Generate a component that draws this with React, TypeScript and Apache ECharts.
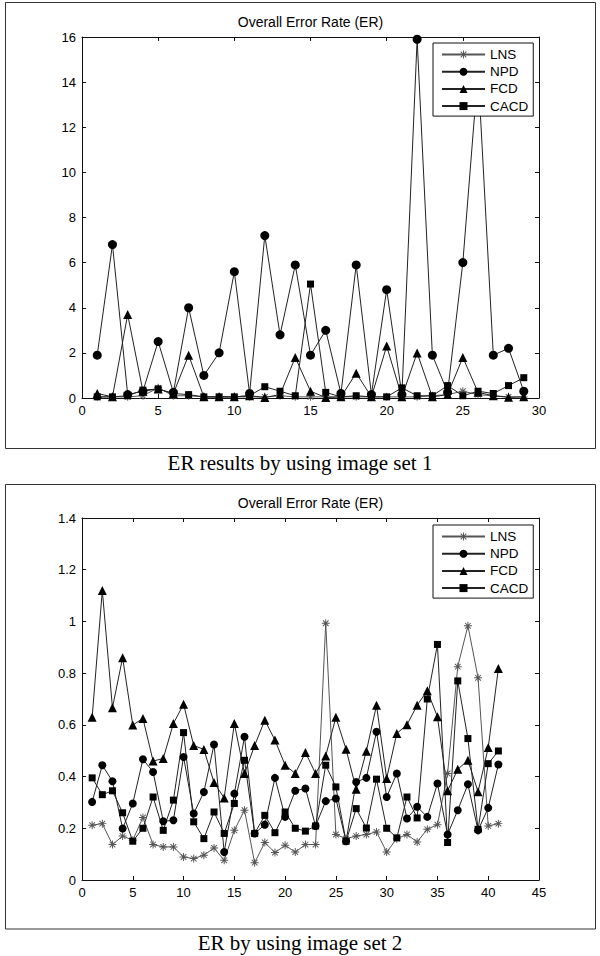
import React, { useEffect, useRef } from 'react';
import * as echarts from 'echarts';

// ---------- data ----------
const SERIES_NAMES = ['LNS', 'NPD', 'FCD', 'CACD'];

// Image set 1 (x = 1..29)
const LNS_SET1 = [0.05, 0.05, 0.05, 0.1, 0.45, 0.1, 0.1, 0.05, 0.05, 0.05, 0.05, 0.05, 0.1, 0.05, 0.05, 0.05, 0.05, 0.05, 0.05, 0.05, 0.05, 0.05, 0.1, 0.15, 0.3, 0.15, 0.1, 0.05, 0.05];
const NPD_SET1 = [1.9, 6.8, 0.15, 0.3, 2.5, 0.25, 4.0, 1.0, 2.0, 5.6, 0.2, 7.2, 2.8, 5.9, 1.9, 3.0, 0.2, 5.9, 0.15, 4.8, 0.15, 15.9, 1.9, 0.25, 6.0, 14.5, 1.9, 2.2, 0.3];
const FCD_SET1 = [0.2, 0.05, 3.7, 0.3, 0.4, 0.2, 1.9, 0.05, 0.05, 0.05, 0.1, 0.02, 0.15, 1.8, 0.3, 0.02, 0.05, 1.1, 0.05, 2.3, 0.05, 2.0, 0.05, 0.15, 1.8, 0.25, 0.1, 0.03, 0.05];
const CACD_SET1 = [0.05, 0.05, 0.1, 0.35, 0.4, 0.2, 0.15, 0.05, 0.05, 0.05, 0.1, 0.5, 0.3, 0.1, 5.05, 0.25, 0.05, 0.1, 0.05, 0.05, 0.45, 0.1, 0.1, 0.55, 0.1, 0.3, 0.2, 0.55, 0.9];

// Image set 2 (x = 1..41)
const LNS_SET2 = [0.212, 0.218, 0.137, 0.17, 0.154, 0.242, 0.137, 0.128, 0.128, 0.089, 0.083, 0.096, 0.124, 0.076, 0.192, 0.27, 0.067, 0.145, 0.106, 0.134, 0.108, 0.137, 0.137, 0.993, 0.176, 0.16, 0.17, 0.176, 0.186, 0.108, 0.16, 0.176, 0.147, 0.196, 0.214, 0.412, 0.825, 0.983, 0.782, 0.209, 0.218];
const NPD_SET2 = [0.302, 0.444, 0.382, 0.199, 0.296, 0.467, 0.418, 0.227, 0.231, 0.476, 0.257, 0.34, 0.524, 0.108, 0.334, 0.554, 0.18, 0.214, 0.395, 0.244, 0.345, 0.354, 0.209, 0.305, 0.315, 0.15, 0.379, 0.395, 0.573, 0.321, 0.412, 0.238, 0.283, 0.244, 0.373, 0.176, 0.27, 0.37, 0.192, 0.279, 0.447];
const FCD_SET2 = [0.629, 1.12, 0.666, 0.86, 0.599, 0.625, 0.46, 0.47, 0.605, 0.68, 0.52, 0.505, 0.377, 0.317, 0.605, 0.412, 0.52, 0.618, 0.541, 0.444, 0.412, 0.493, 0.412, 0.48, 0.629, 0.506, 0.351, 0.498, 0.676, 0.393, 0.567, 0.6, 0.676, 0.732, 0.631, 0.345, 0.428, 0.463, 0.341, 0.512, 0.818];
const CACD_SET2 = [0.395, 0.33, 0.345, 0.26, 0.15, 0.2, 0.321, 0.192, 0.309, 0.57, 0.225, 0.16, 0.263, 0.18, 0.296, 0.463, 0.18, 0.25, 0.183, 0.263, 0.2, 0.189, 0.209, 0.444, 0.36, 0.15, 0.276, 0.201, 0.39, 0.2, 0.163, 0.321, 0.24, 0.7, 0.911, 0.145, 0.77, 0.547, 0.196, 0.45, 0.499];

const TITLE = 'Overall Error Rate (ER)';
const CAPTION_1 = 'ER results by using image set 1';
const CAPTION_2 = 'ER by using image set 2';

// axis ranges
const X1 = { min: 0, max: 30, interval: 5 };
const Y1 = { min: 0, max: 16, interval: 2 };
const X2 = { min: 0, max: 45, interval: 5 };
const Y2 = { min: 0, max: 1.4, interval: 0.2 };

// ---------- styling ----------
const SANS = 'Arial, "Liberation Sans", Helvetica, sans-serif';
const SERIF = '"Times New Roman", "Liberation Serif", Times, serif';
const STAR =
  'path://M-0.6,-5L0.6,-5L0.6,5L-0.6,5Z M-5,-0.6L5,-0.6L5,0.6L-5,0.6Z M-3.1,-3.95L3.95,3.1L3.1,3.95L-3.95,-3.1Z M3.1,-3.95L3.95,-3.1L-3.1,3.95L-3.95,3.1Z';

const toPts = (arr: number[]) => arr.map((v, i) => [i + 1, v]);

function axisPair(range: any, grid: number, isX: boolean, fmt?: (v: number) => string) {
  const common = {
    type: 'value',
    gridIndex: grid,
    min: range.min,
    max: range.max,
    interval: range.interval,
    splitLine: { show: false },
    axisLine: { show: true, onZero: false, lineStyle: { color: '#111', width: 1 } },
    axisTick: { show: true, inside: true, length: 4, lineStyle: { color: '#111', width: 1 } },
  };
  const main = {
    ...common,
    position: isX ? 'bottom' : 'left',
    axisLabel: {
      show: true,
      margin: 6,
      color: '#000',
      fontSize: 13,
      fontFamily: SANS,
      formatter: fmt,
      showMinLabel: true,
      showMaxLabel: true,
    },
  };
  const mirror = {
    ...common,
    position: isX ? 'top' : 'right',
    axisLabel: { show: false },
  };
  return [main, mirror];
}

function mkSeries(name: string, data: number[], grid: number, symbol: string, size: number, color: string, lineColor: string) {
  return {
    name,
    type: 'line',
    xAxisIndex: grid * 2,
    yAxisIndex: grid * 2,
    data: toPts(data),
    symbol,
    symbolSize: size,
    symbolKeepAspect: true,
    showSymbol: true,
    showAllSymbol: true,
    lineStyle: { color: lineColor, width: 1 },
    itemStyle: { color, borderWidth: 0 },
    emphasis: { disabled: true },
  };
}

function legendAt(top: number) {
  return {
    show: true,
    orient: 'vertical',
    left: 433,
    top,
    data: SERIES_NAMES,
    itemWidth: 43,
    itemHeight: 10,
    itemGap: 3.2,
    padding: [4.5, 5, 3, 8],
    borderColor: '#111',
    borderWidth: 1,
    borderRadius: 0,
    backgroundColor: '#fff',
    selectedMode: false,
    textStyle: { color: '#000', fontSize: 13.5, fontFamily: SANS, lineHeight: 14 },
  };
}

export default function App() {
  const ref = useRef<HTMLDivElement>(null);

  useEffect(() => {
    document.body.style.margin = '0';
    if (!ref.current) return;
    const chart = echarts.init(ref.current, null, { renderer: 'svg' });

    const fmt2 = (v: number) => String(Math.round(v * 10) / 10);

    const option: any = {
      animation: false,
      backgroundColor: '#fff',
      grid: [
        { left: 82, top: 37, width: 457, height: 361, containLabel: false },
        { left: 82, top: 518, width: 457, height: 362, containLabel: false },
      ],
      xAxis: [...axisPair(X1, 0, true), ...axisPair(X2, 1, true)],
      yAxis: [...axisPair(Y1, 0, false), ...axisPair(Y2, 1, false, fmt2)],
      legend: [legendAt(43), legendAt(525)],
      series: [
        mkSeries('LNS', LNS_SET1, 0, STAR, 8, '#555', '#555'),
        mkSeries('NPD', NPD_SET1, 0, 'circle', 9, '#000', '#222'),
        mkSeries('FCD', FCD_SET1, 0, 'triangle', 9, '#000', '#222'),
        mkSeries('CACD', CACD_SET1, 0, 'rect', 7, '#000', '#222'),
        mkSeries('LNS', LNS_SET2, 1, STAR, 8, '#555', '#555'),
        mkSeries('NPD', NPD_SET2, 1, 'circle', 8, '#000', '#222'),
        mkSeries('FCD', FCD_SET2, 1, 'triangle', 9, '#000', '#222'),
        mkSeries('CACD', CACD_SET2, 1, 'rect', 7, '#000', '#222'),
      ],
      graphic: [
        { type: 'rect', shape: { x: 5.5, y: 2.5, width: 590, height: 446 }, style: { fill: 'none', stroke: '#333', lineWidth: 1 }, silent: true },
        { type: 'rect', shape: { x: 5.5, y: 484.5, width: 590, height: 444.5 }, style: { fill: 'none', stroke: '#333', lineWidth: 1 }, silent: true },
        { type: 'text', x: 310.5, y: 22, style: { text: TITLE, fontSize: 14, fontFamily: SANS, fill: '#000', align: 'center', verticalAlign: 'middle' }, silent: true },
        { type: 'text', x: 310.5, y: 503, style: { text: TITLE, fontSize: 14, fontFamily: SANS, fill: '#000', align: 'center', verticalAlign: 'middle' }, silent: true },
        { type: 'text', x: 300, y: 463, style: { text: CAPTION_1, fontSize: 21, fontFamily: SERIF, fill: '#000', align: 'center', verticalAlign: 'middle' }, silent: true },
        { type: 'text', x: 300, y: 943, style: { text: CAPTION_2, fontSize: 21, fontFamily: SERIF, fill: '#000', align: 'center', verticalAlign: 'middle' }, silent: true },
      ],
    };

    chart.setOption(option);
    return () => chart.dispose();
  }, []);

  return <div ref={ref} style={{ width: 600, height: 956 }} />;
}
